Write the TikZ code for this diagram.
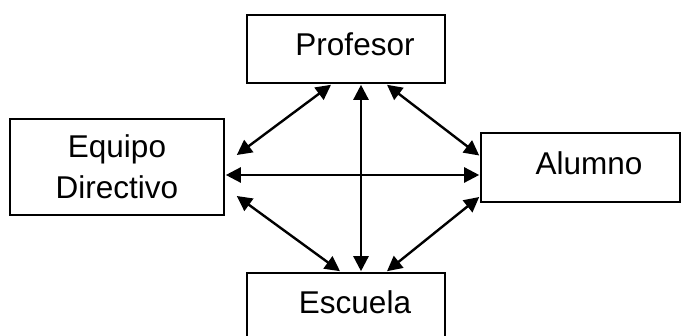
\documentclass[tikz,border=0pt]{standalone}
\usepackage{fontspec}
\setmainfont{Liberation Sans}
\usetikzlibrary{arrows.meta,calc}
\begin{document}
\begin{tikzpicture}[x=1pt,y=-1pt,
  box/.style={draw,line width=1.6pt,inner sep=0pt},
  txt/.style={font=\fontsize{31.5}{41}\selectfont,inner sep=0pt,align=center},
  arr/.style={line width=2.4pt,{Triangle[length=15pt,width=15pt]}-{Triangle[length=15pt,width=15pt]}}]
\useasboundingbox (0,0) rectangle (684,336);
\node[box,minimum width=198pt,minimum height=68pt] (prof) at (346,49) {};
\node[box,minimum width=214pt,minimum height=96pt] (equi) at (117,167) {};
\node[box,minimum width=199pt,minimum height=69pt] (alum) at (580.5,167.5) {};
\node[box,minimum width=198pt,minimum height=68pt] (escu) at (346,307) {};
\node[txt] (proft) at (355,44) {Profesor};
\node[txt] (equit) at (117,167) {Equipo\\Directivo};
\node[txt] (alumt) at (589,163) {Alumno};
\node[txt] (escut) at (355,302) {Escuela};
\draw[arr] ($(equi.east)+(12,-12)$) -- ($(prof.south)+(-15,1)$);
\draw[arr] ($(prof.south)+(41,1)$) -- ($(alum.west)+(-1,-12)$);
\draw[arr] ($(equi.east)+(12,29)$) -- ($(escu.north)+(-6,-1)$);
\draw[arr] ($(escu.north)+(41,-1)$) -- ($(alum.west)+(-1,29.5)$);
\draw[arr] ($(prof.south)+(15,1)$) -- ($(escu.north)+(15,-1)$);
\draw[arr] ($(equi.east)+(1,8)$) -- ($(alum.west)+(-1,7.5)$);
\end{tikzpicture}
\end{document}
